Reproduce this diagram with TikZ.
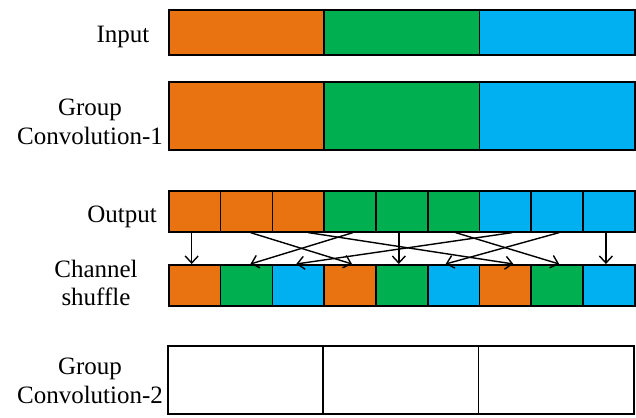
\documentclass[tikz,border=0pt]{standalone}
\usepackage{fontspec}
\setmainfont{Liberation Serif}
\usetikzlibrary{arrows.meta}
\definecolor{corange}{HTML}{E97311}
\definecolor{cgreen}{HTML}{00B050}
\definecolor{cblue}{HTML}{00B0F0}
\begin{document}
\begin{tikzpicture}[x=1pt,y=-1pt,
  cell/.style={draw=black,line width=1.6pt,inner sep=0pt,anchor=north west},
  big/.style={cell,minimum width=155.33pt},
  small/.style={cell,minimum width=51.78pt,minimum height=41pt},
  lbl/.style={align=center,inner sep=0pt,font=\fontsize{25}{28.5}\selectfont},
  arr/.style={line width=1.4pt,-{Straight Barb[length=7pt,width=13pt,line width=1.4pt]}}]
\useasboundingbox (0,0) rectangle (636,417);

% labels
\node[lbl] (lin) at (123,37) {Input};
\node[lbl] (lc1) at (90,122) {Group\\Convolution-1};
\node[lbl] (lout) at (122,217) {Output};
\node[lbl] (lsh) at (96,283) {Channel\\shuffle};
\node[lbl] (lc2) at (90,381) {Group\\Convolution-2};

% input
\node[big,minimum height=45pt,fill=corange] (i1) at (168,9) {};
\node[big,minimum height=45pt,fill=cgreen]  (i2) at (323.33,9) {};
\node[big,minimum height=45pt,fill=cblue]   (i3) at (478.67,9) {};

% group convolution 1
\node[big,minimum height=68pt,fill=corange] (c1) at (168,81) {};
\node[big,minimum height=68pt,fill=cgreen]  (c2) at (323.33,81) {};
\node[big,minimum height=68pt,fill=cblue]   (c3) at (478.67,81) {};

% output channels
\foreach \k/\c in {1/corange,2/corange,3/corange,4/cgreen,5/cgreen,6/cgreen,7/cblue,8/cblue,9/cblue}
  \node[small,fill=\c] (o\k) at ({168+51.78*(\k-1)},190) {};

% shuffled channels
\foreach \k/\c in {1/corange,2/cgreen,3/cblue,4/corange,5/cgreen,6/cblue,7/corange,8/cgreen,9/cblue}
  \node[small,fill=\c] (s\k) at ({168+51.78*(\k-1)},264) {};

% group convolution 2
\node[cell,minimum width=155.33pt,minimum height=68pt] (g1) at (167,345) {};
\node[cell,minimum width=155.33pt,minimum height=68pt] (g2) at (322.33,345) {};
\node[cell,minimum width=155.33pt,minimum height=68pt] (g3) at (477.67,345) {};

% shuffle connections
\draw[arr] ([xshift=-3pt]o1.south) -- ([xshift=-3pt]s1.north);
\draw[arr] ([xshift=4pt]o2.south)  -- ([xshift=2pt]s4.north);
\draw[arr] ([xshift=10pt]o3.south) -- ([xshift=8pt]s7.north);
\draw[arr] ([xshift=3pt]o4.south)  -- ([xshift=4pt]s2.north);
\draw[arr] ([xshift=-3pt]o5.south) -- ([xshift=-3pt]s5.north);
\draw[arr] ([xshift=2pt]o6.south)  -- ([xshift=2pt]s8.north);
\draw[arr] ([xshift=7pt]o7.south)  -- ([xshift=-2pt]s3.north);
\draw[arr] ([xshift=2pt]o8.south)  -- ([xshift=-8pt]s6.north);
\draw[arr] ([xshift=-3pt]o9.south) -- ([xshift=-3pt]s9.north);
\end{tikzpicture}
\end{document}
